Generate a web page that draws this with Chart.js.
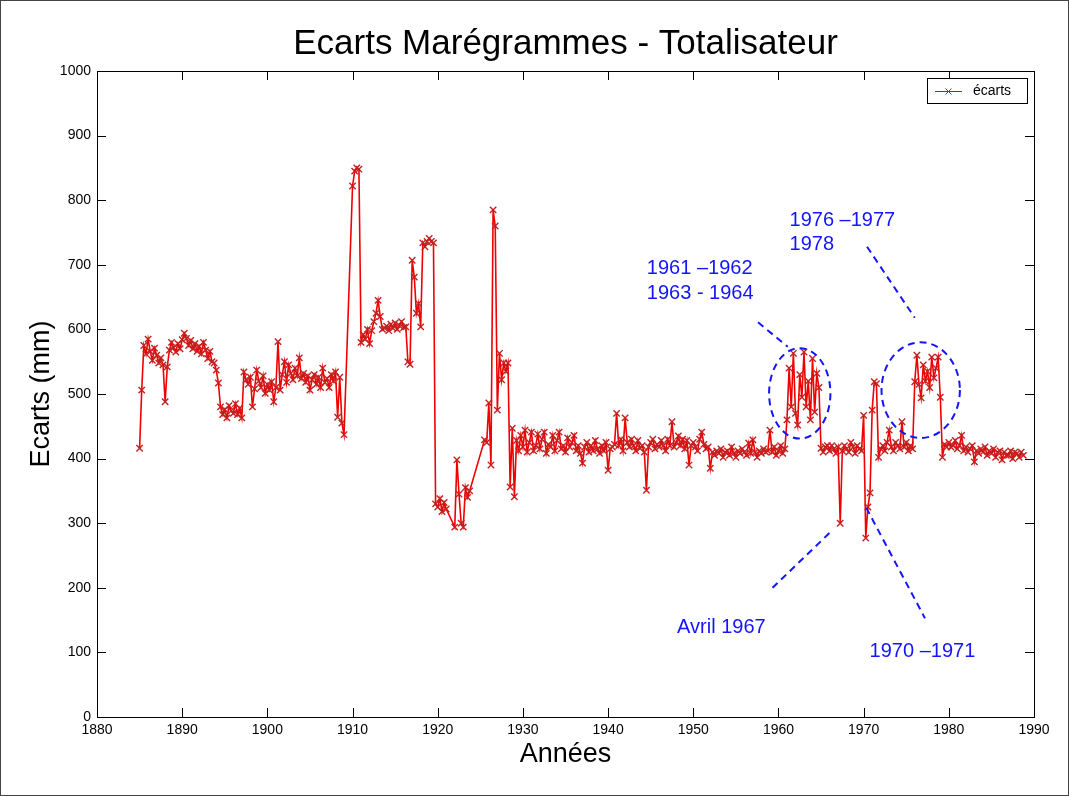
<!DOCTYPE html>
<html lang="fr">
<head>
<meta charset="utf-8">
<title>Ecarts Marégrammes - Totalisateur</title>
<script src="https://cdn.jsdelivr.net/npm/chart.js@4.4.1/dist/chart.umd.min.js"></script>
<style>
  html, body { margin: 0; padding: 0; background: #fff; }
  canvas { display: block; }
</style>
</head>
<body>
<canvas id="ecartsChart" width="1069" height="796"></canvas>
<script>
// --- Données : écarts marégrammes / totalisateur, un point par trimestre ---
// null = trimestre sans mesure (la courbe relie les points voisins)
const anneeDebut = 1885;
const pas = 0.25;

const ecarts = [
  416, 506, 575, 562,   // 1885
  585, 566, 552, 571,   // 1886
  560, 548, 556, 545,   // 1887
  488, 542, 568, 580,   // 1888
  572, 565, 578, 570,   // 1889
  584, 594, 586, 575,   // 1890
  583, 570, 578, 566,   // 1891
  574, 562, 580, 568,   // 1892
  555, 566, 550, 548,   // 1893
  537, 517, 480, 468,   // 1894
  476, 463, 482, 474,   // 1895
  470, 485, 468, 478,   // 1896
  463, 534, 522, 515,   // 1897
  526, 480, 508, 537,   // 1898
  520, 510, 528, 501,   // 1899
  515, 506, 519, 488,   // 1900
  510, 581, 506, 530,   // 1901
  550, 518, 545, 532,   // 1902
  522, 540, 528, 556,   // 1903
  524, 532, 518, 528,   // 1904
  506, 522, 530, 515,   // 1905
  526, 510, 540, 518,   // 1906
  524, 510, 530, 520,   // 1907
  534, 464, 526, 455,   // 1908
  437, null, null, null, // 1909
  822, 845, 850, 848,   // 1910
  580, 592, 585, 600,   // 1911
  578, 598, 612, 625,   // 1912
  645, 620, 600, 602,   // 1913
  605, 598, 608, 602,   // 1914
  610, 600, 606, 612,   // 1915
  603, 604, 550, 546,   // 1916
  707, 681, 625, 640,   // 1917
  604, 734, 728, 736,   // 1918
  741, 736, 734, 330,   // 1919
  325, 338, 318, 332,   // 1920
  322, null, null, null, // 1921
  294, 398, 345, 300,   // 1922
  294, 355, 340, 350,   // 1923
  null, null, null, null, // 1924
  null, null, 429, 425, // 1925
  486, 390, 785, 760,   // 1926
  475, 563, 522, 548,   // 1927
  535, 548, 356, 447,   // 1928
  341, 428, 412, 436,   // 1929
  418, 444, 410, 425,   // 1930
  441, 412, 420, 438,   // 1931
  415, 430, 441, 408,   // 1932
  422, 418, 436, 412,   // 1933
  428, 441, 415, 420,   // 1934
  410, 432, 418, 425,   // 1935
  436, 412, 420, 408,   // 1936
  393, 418, 425, 410,   // 1937
  420, 412, 428, 415,   // 1938
  408, 420, 412, 425,   // 1939
  382, 415, 418, 422,   // 1940
  470, 420, 430, 412,   // 1941
  463, 425, 418, 430,   // 1942
  420, 412, 428, 416,   // 1943
  420, 410, 351, 418,   // 1944
  425, 430, 415, 422,   // 1945
  418, 428, 420, 412,   // 1946
  430, 420, 457, 418,   // 1947
  425, 435, 420, 430,   // 1948
  415, 428, 390, 420,   // 1949
  425, 418, 412, 430,   // 1950
  441, 422, 415, 418,   // 1951
  385, 410, 405, 412,   // 1952
  408, 415, 402, 410,   // 1953
  412, 405, 418, 408,   // 1954
  402, 412, 408, 415,   // 1955
  410, 405, 424, 408,   // 1956
  429, 410, 402, 412,   // 1957
  408, 415, 410, 412,   // 1958
  444, 410, 418, 405,   // 1959
  412, 420, 408, 415,   // 1960
  460, 540, 480, 563,   // 1961
  470, 452, 530, 495,   // 1962
  565, 480, 520, 460,   // 1963
  555, 472, 532, 510,   // 1964
  416, 410, 418, 420,   // 1965
  412, 420, 415, 408,   // 1966
  418, 300, 412, 420,   // 1967
  415, 410, 425, 418,   // 1968
  408, 420, 415, 412,   // 1969
  467, 277, 325, 347,   // 1970
  475, 519, 516, 402,   // 1971
  415, 420, 412, 425,   // 1972
  444, 418, 412, 425,   // 1973
  420, 415, 457, 418,   // 1974
  425, 412, 420, 415,   // 1975
  519, 560, 515, 494,   // 1976
  545, 520, 535, 510,   // 1977
  557, 525, 540, 557,   // 1978
  495, 402, 422, 418,   // 1979
  425, 418, 420, 428,   // 1980
  415, 420, 436, 412,   // 1981
  418, 410, 415, 420,   // 1982
  395, 412, 408, 415,   // 1983
  410, 418, 405, 412,   // 1984
  408, 415, 402, 410,   // 1985
  412, 398, 410, 405,   // 1986
  405, 412, 400, 410,   // 1987
  408, 402, 410, 405    // 1988
];

const ticksAnnees = [1880, 1890, 1900, 1910, 1920, 1930, 1940, 1950, 1960, 1970, 1980, 1990];
const ticksEcarts = [0, 100, 200, 300, 400, 500, 600, 700, 800, 900, 1000];

// Annotations (en unités des axes : année, mm)
const ellipses = [
  { annee: 1962.5, ecart: 501, rAnnee: 3.6, rEcart: 70 },
  { annee: 1976.7, ecart: 506, rAnnee: 4.6, rEcart: 74 }
];
const traits = [
  [1957.6, 611, 1961.1, 573],
  [1970.4, 728, 1976.0, 618],
  [1959.3, 200, 1966.0, 285],
  [1970.3, 324, 1977.2, 153]
];
const textes = [
  { t: '1961 \u20131962', annee: 1944.55, ecart: 695 },
  { t: '1963 - 1964', annee: 1944.55, ecart: 656 },
  { t: '1976 \u20131977', annee: 1961.3, ecart: 769 },
  { t: '1978', annee: 1961.3, ecart: 731 },
  { t: 'Avril 1967', annee: 1948.1, ecart: 138 },
  { t: '1970 \u20131971', annee: 1970.7, ecart: 102 }
];

const POLICE = '"Liberation Sans", Arial, Helvetica, sans-serif';
const ROUGE = '#f00000';
const MARQUE = '#c42020';
const BLEU = '#1414ff';

// points {x, y} ; les trimestres vides sont retirés
const points = ecarts
  .map((v, i) => ({ x: anneeDebut + i * pas, y: v }))
  .filter(p => p.y !== null);

// petite croix "x" (comme pointStyle crossRot)
function croix(ctx, x, y, r) {
  ctx.beginPath();
  ctx.moveTo(x - r, y - r); ctx.lineTo(x + r, y + r);
  ctx.moveTo(x - r, y + r); ctx.lineTo(x + r, y - r);
  ctx.stroke();
}

// Cadre, graduations intérieures, titres, légende et annotations
const habillage = {
  id: 'habillage',
  afterDraw(chart) {
    const { ctx, chartArea: a, scales: { x, y } } = chart;
    const lt = 9; // longueur des graduations
    ctx.save();

    // bordure de la figure
    ctx.strokeStyle = '#444';
    ctx.lineWidth = 1;
    ctx.strokeRect(0.5, 0.5, chart.width - 1, chart.height - 1);

    // cadre du graphe
    ctx.strokeStyle = '#000';
    ctx.strokeRect(a.left + 0.5, a.top + 0.5, a.right - a.left, a.bottom - a.top);

    ctx.beginPath();
    ticksAnnees.forEach(v => {
      const px = Math.round(x.getPixelForValue(v)) + 0.5;
      ctx.moveTo(px, a.bottom); ctx.lineTo(px, a.bottom - lt);
      ctx.moveTo(px, a.top); ctx.lineTo(px, a.top + lt);
    });
    ticksEcarts.forEach(v => {
      const py = Math.round(y.getPixelForValue(v)) + 0.5;
      ctx.moveTo(a.left, py); ctx.lineTo(a.left + lt, py);
      ctx.moveTo(a.right, py); ctx.lineTo(a.right - lt, py);
    });
    ctx.stroke();

    // titre et noms des axes
    const cx = (a.left + a.right) / 2;
    ctx.fillStyle = '#000';
    ctx.textAlign = 'center';
    ctx.textBaseline = 'alphabetic';
    ctx.font = '35px ' + POLICE;
    ctx.fillText('Ecarts Marégrammes - Totalisateur', cx, 54);

    ctx.font = '27px ' + POLICE;
    ctx.textBaseline = 'middle';
    ctx.fillText('Années', cx, 755);

    ctx.save();
    ctx.translate(42, (a.top + a.bottom) / 2);
    ctx.rotate(-Math.PI / 2);
    ctx.fillText('Ecarts (mm)', 0, 0);
    ctx.restore();

    // légende
    const lx = a.right - 107, ly = a.top + 7;
    ctx.fillStyle = '#fff';
    ctx.fillRect(lx, ly, 100, 25);
    ctx.strokeStyle = '#000';
    ctx.strokeRect(lx + 0.5, ly + 0.5, 100, 25);
    ctx.strokeStyle = ROUGE;
    ctx.beginPath();
    ctx.moveTo(lx + 8, ly + 13.5); ctx.lineTo(lx + 35, ly + 13.5);
    ctx.stroke();
    ctx.strokeStyle = MARQUE;
    croix(ctx, lx + 21.5, ly + 13.5, 3);
    ctx.fillStyle = '#000';
    ctx.font = '14px ' + POLICE;
    ctx.textAlign = 'left';
    ctx.fillText('écarts', lx + 46, ly + 13.5);

    // annotations en bleu
    ctx.strokeStyle = BLEU;
    ctx.fillStyle = BLEU;
    ctx.lineWidth = 2;
    ctx.setLineDash([7, 5]);
    ellipses.forEach(e => {
      const ex = x.getPixelForValue(e.annee), ey = y.getPixelForValue(e.ecart);
      const rx = x.getPixelForValue(e.annee + e.rAnnee) - ex;
      const ry = ey - y.getPixelForValue(e.ecart + e.rEcart);
      ctx.beginPath();
      ctx.ellipse(ex, ey, rx, ry, 0, 0, Math.PI * 2);
      ctx.stroke();
    });
    traits.forEach(([a1, e1, a2, e2]) => {
      ctx.beginPath();
      ctx.moveTo(x.getPixelForValue(a1), y.getPixelForValue(e1));
      ctx.lineTo(x.getPixelForValue(a2), y.getPixelForValue(e2));
      ctx.stroke();
    });
    ctx.setLineDash([]);
    ctx.font = '20px ' + POLICE;
    ctx.textAlign = 'left';
    ctx.textBaseline = 'middle';
    textes.forEach(t => {
      ctx.fillText(t.t, x.getPixelForValue(t.annee), y.getPixelForValue(t.ecart));
    });

    ctx.restore();
  }
};

new Chart(document.getElementById('ecartsChart'), {
  type: 'line',
  data: {
    datasets: [{
      label: 'écarts',
      data: points,
      borderColor: ROUGE,
      borderWidth: 1.6,
      pointStyle: 'crossRot',
      pointRadius: 4.5,
      pointBorderWidth: 1.4,
      pointBorderColor: MARQUE,
      pointBackgroundColor: MARQUE,
      tension: 0
    }]
  },
  options: {
    responsive: false,
    animation: false,
    devicePixelRatio: 1,
    layout: { padding: { top: 71, right: 35, left: 0, bottom: 0 } },
    plugins: {
      legend: { display: false },
      tooltip: { enabled: false }
    },
    scales: {
      x: {
        type: 'linear',
        min: 1880,
        max: 1990,
        afterBuildTicks: s => { s.ticks = ticksAnnees.map(v => ({ value: v })); },
        afterFit: s => { s.height = 79; },
        grid: { display: false, drawTicks: false },
        border: { display: false },
        ticks: {
          padding: 5,
          maxRotation: 0,
          color: '#000',
          font: { family: POLICE, size: 14 },
          callback: v => String(v)
        }
      },
      y: {
        min: 0,
        max: 1000,
        afterBuildTicks: s => { s.ticks = ticksEcarts.map(v => ({ value: v })); },
        afterFit: s => { s.width = 97; },
        grid: { display: false, drawTicks: false },
        border: { display: false },
        ticks: {
          padding: 6,
          color: '#000',
          font: { family: POLICE, size: 14 },
          callback: v => String(v)
        }
      }
    }
  },
  plugins: [habillage]
});
</script>
</body>
</html>
